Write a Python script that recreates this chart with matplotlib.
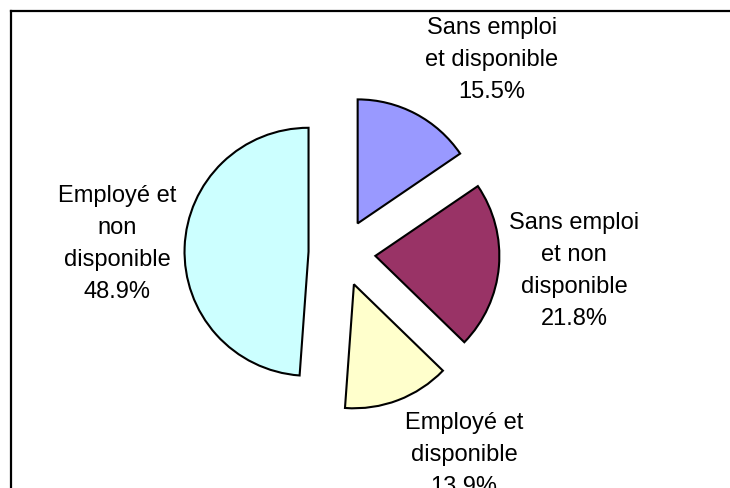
import matplotlib
matplotlib.use("Agg")
import matplotlib.pyplot as plt
from matplotlib.lines import Line2D

labels = ["Sans emploi\net disponible", "Sans emploi\net non\ndisponible",
          "Employé et\ndisponible", "Employé et\nnon\ndisponible"]
shares = [15.5, 21.8, 13.9, 48.9]
colors = ["#9999FF", "#993366", "#FFFFCC", "#CCFFFF"]

# label anchor points (pixels from top-left)
label_pos = [(492, 60), (574, 271), (464, 455), (117, 244)]

W, H = 730, 489
fig = plt.figure(figsize=(W / 100, H / 100), dpi=100)
ax = fig.add_axes([0, 0, 1, 1])

R = 124
# explode is in data units here (radius is in pixels)
ax.pie(shares, colors=colors, startangle=90, counterclock=False,
       explode=[0.27 * R] * 4, radius=R, center=(342, H - 254),
       wedgeprops={"edgecolor": "black", "linewidth": 1.5})

ax.set_xlim(0, W)
ax.set_ylim(0, H)
ax.set_aspect("equal")
ax.axis("off")

for lab, val, (x, y) in zip(labels, shares, label_pos):
    ax.text(x, H - y, f"{lab}\n{val:.1f}%", ha="center", va="center",
            fontsize=17, family="Liberation Sans", linespacing=1.6)

# chart frame (only top and left edges fall inside the picture)
fig.add_artist(Line2D([11 / W, 1], [1 - 12 / H, 1 - 12 / H], color="black", lw=1.6))
fig.add_artist(Line2D([11 / W, 11 / W], [0, 1 - 12 / H], color="black", lw=1.6))

fig.savefig("out.png", dpi=100)
